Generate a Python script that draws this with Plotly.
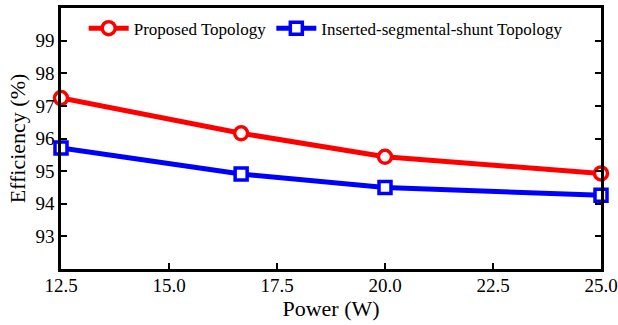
import plotly.graph_objects as go

power = [12.5, 16.67, 20.0, 25.0]
proposed = [97.24, 96.16, 95.44, 94.93]
inserted = [95.71, 94.91, 94.50, 94.26]
x_ticks = [12.5, 15.0, 17.5, 20.0, 22.5, 25.0]
y_ticks = [93, 94, 95, 96, 97, 98, 99]

FONT = "Liberation Serif"

fig = go.Figure()
fig.add_trace(go.Scatter(
    x=power, y=proposed, name="Proposed Topology", mode="lines+markers",
    line=dict(color="#ff0000", width=5),
    marker=dict(symbol="circle", size=13, color="white", line=dict(color="#ff0000", width=3.5)),
    cliponaxis=False))
fig.add_trace(go.Scatter(
    x=power, y=inserted, name="Inserted-segmental-shunt Topology", mode="lines+markers",
    line=dict(color="#0000ff", width=5),
    marker=dict(symbol="square", size=12, color="white", line=dict(color="#0000ff", width=3.5)),
    cliponaxis=False))

fig.update_layout(
    width=618, height=325,
    margin=dict(l=61, r=17, t=8, b=56, autoexpand=False),
    paper_bgcolor="white", plot_bgcolor="white",
    font=dict(family=FONT, color="black", size=18),
    showlegend=True,
    legend=dict(orientation="h", x=0.042, y=0.99, xanchor="left", yanchor="top",
                font=dict(size=17, family=FONT), bgcolor="rgba(0,0,0,0)",
                itemwidth=40, tracegroupgap=0),
    xaxis=dict(range=[12.5, 25.0], tickvals=x_ticks, ticktext=[f"{v:.1f}" for v in x_ticks],
               ticks="inside", ticklen=6, tickwidth=2, tickcolor="black",
               showline=True, linewidth=2.5, linecolor="black", mirror=True,
               showgrid=False, zeroline=False, automargin=False,
               ticklabelstandoff=-3,
               title=dict(text="Power (W)", font=dict(size=22, family=FONT), standoff=0),
               tickfont=dict(size=19, family=FONT)),
    yaxis=dict(range=[92, 100], tickvals=y_ticks,
               ticks="inside", ticklen=6, tickwidth=2, tickcolor="black",
               showline=True, linewidth=2.5, linecolor="black", mirror="allticks",
               showgrid=False, zeroline=False, automargin=False,
               title=dict(text="Efficiency (%)", font=dict(size=22, family=FONT), standoff=4),
               tickfont=dict(size=19, family=FONT)),
)

fig.write_html("out.html", config={"displayModeBar": False},
               post_script="document.body.style.margin='0';document.body.style.overflow='hidden';")
